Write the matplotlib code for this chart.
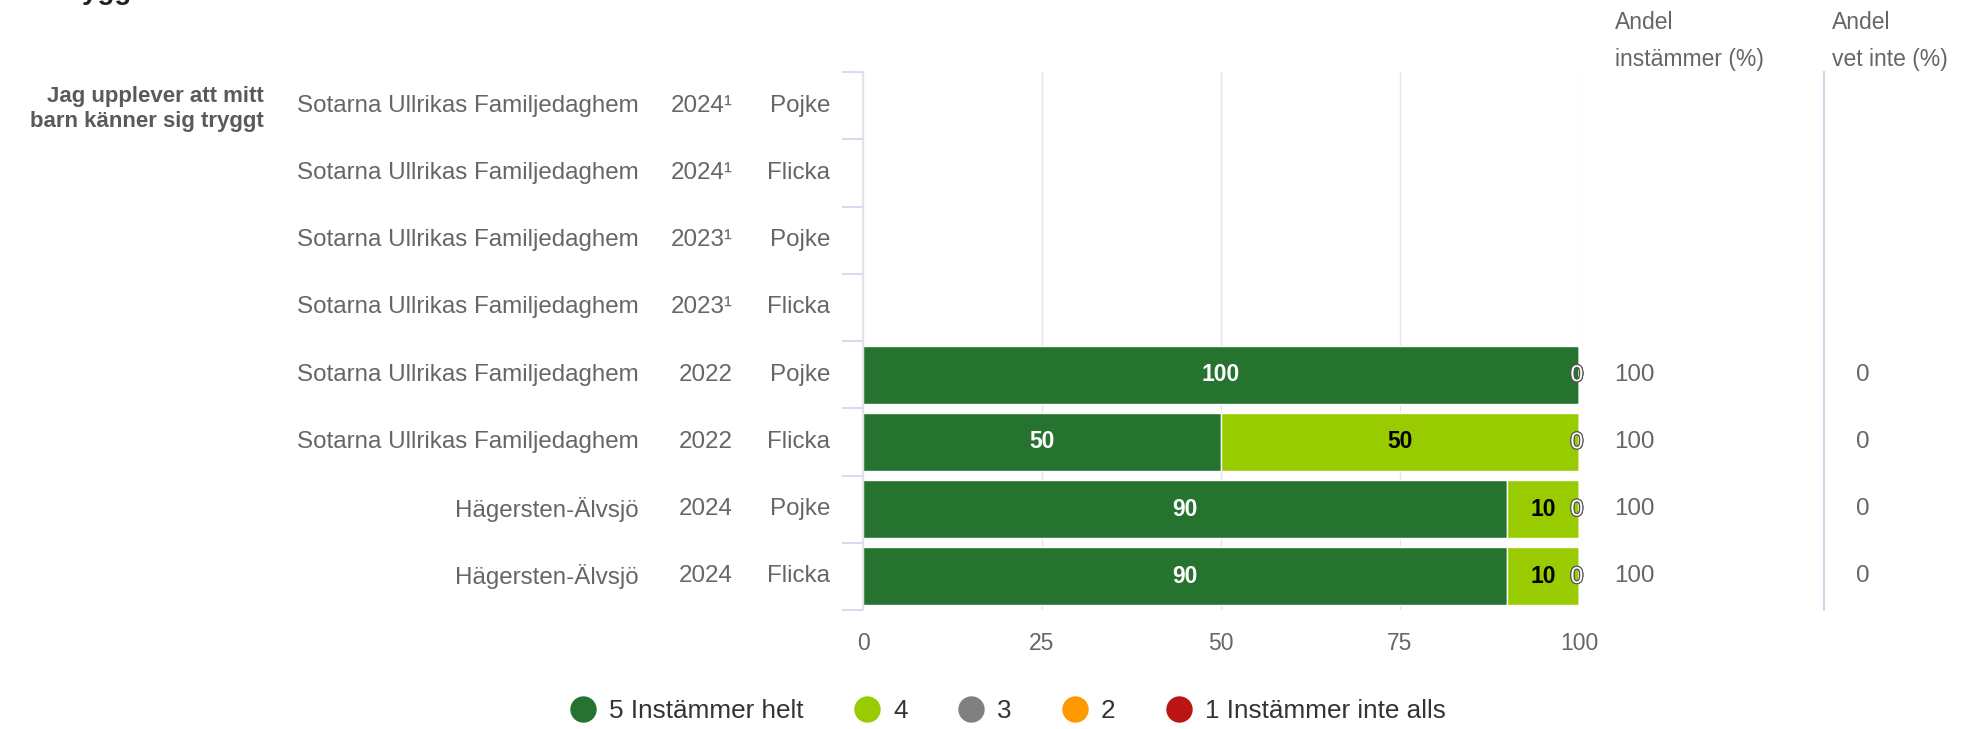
"""Stacked bar chart: Jag upplever att mitt barn känner sig tryggt"""
import matplotlib
matplotlib.use("Agg")
import matplotlib.pyplot as plt
import matplotlib.transforms as mtransforms
import matplotlib.patheffects as pe
from matplotlib.lines import Line2D
import numpy as np

plt.rcParams['font.family'] = ['Liberation Sans', 'DejaVu Sans']

# data
question = "Jag upplever att mitt\nbarn känner sig tryggt"
units = ["Sotarna Ullrikas Familjedaghem"] * 6 + ["Hägersten-Älvsjö"] * 2
years = ["2024\u00b9", "2024\u00b9", "2023\u00b9", "2023\u00b9", "2022", "2022", "2024", "2024"]
genders = ["Pojke", "Flicka", "Pojke", "Flicka", "Pojke", "Flicka", "Pojke", "Flicka"]
nan = np.nan
val5 = [nan, nan, nan, nan, 100, 50, 90, 90]
val4 = [nan, nan, nan, nan, 0, 50, 10, 10]
val3 = [nan, nan, nan, nan, 0, 0, 0, 0]
val2 = [nan, nan, nan, nan, 0, 0, 0, 0]
val1 = [nan, nan, nan, nan, 0, 0, 0, 0]
andel_instammer = ["", "", "", "", "100", "100", "100", "100"]
andel_vet_inte = ["", "", "", "", "0", "0", "0", "0"]
series_names = ["5 Instämmer helt", "4", "3", "2", "1 Instämmer inte alls"]
series_colors = ["#25732f", "#99cc00", "#808080", "#ff9900", "#bb1414"]
label_colors = ["white", "black", "white", "white", "white"]
xticks = [0, 25, 50, 75, 100]

W, H = 1973, 729
fig = plt.figure(figsize=(W / 100, H / 100), dpi=100)
ax = fig.add_axes([863 / W, 1 - 610 / H, (1579 - 863) / W, (610 - 72) / H])

grey = "#666666"
n = len(genders)
ypos = np.arange(n)
series = [val5, val4, val3, val2, val1]

ax.set_xlim(0, 100)
ax.set_ylim(n - 0.5, -0.5)
for x in xticks:
    ax.axvline(x, color="#e6e6e6", lw=1.0, zorder=0)

left = np.zeros(n)
for vals, col, lc in zip(series, series_colors, label_colors):
    v = np.array(vals, dtype=float)
    ax.barh(ypos, np.nan_to_num(v), left=left, height=0.86, color=col,
            edgecolor="white", linewidth=1.0, zorder=2)
    for i in range(n):
        if np.isnan(v[i]):
            continue
        if v[i] > 0:
            ax.text(left[i] + v[i] / 2, i, f"{v[i]:.0f}", ha="center", va="center",
                    fontsize=16.5, fontweight="bold", color=lc, zorder=4)
        else:
            ax.text(left[i] - 0.3, i, "0", ha="center", va="center", fontsize=16.5,
                    color="white", zorder=4,
                    path_effects=[pe.withStroke(linewidth=1.5, foreground="#555555")])
    left = left + np.nan_to_num(v)

# axes styling
for s in ["top", "right", "bottom"]:
    ax.spines[s].set_visible(False)
ax.spines["left"].set_color("#e0e0e0")
ax.spines["left"].set_linewidth(1.2)
ax.set_yticks(np.arange(-0.5, n, 1.0))
ax.set_yticklabels([])
ax.tick_params(axis="y", length=15, width=1.2, color="#ccd6eb", direction="out")
ax.set_xticks(xticks)
ax.tick_params(axis="x", length=0, pad=16, labelsize=16.5, labelcolor=grey)

# row labels
trans = mtransforms.blended_transform_factory(fig.transFigure, ax.transData)
for i in range(n):
    ax.text(639 / W, i, units[i], transform=trans, ha="right", va="center",
            fontsize=17.4, color=grey)
    ax.text(733 / W, i, years[i], transform=trans, ha="right", va="center",
            fontsize=17.4, color=grey)
    ax.text(830 / W, i, genders[i], transform=trans, ha="right", va="center",
            fontsize=17.4, color=grey)
    ax.text(1614 / W, i, andel_instammer[i], transform=trans, ha="left", va="center",
            fontsize=17.4, color=grey)
    ax.text(1856 / W, i, andel_vet_inte[i], transform=trans, ha="left", va="center",
            fontsize=17.4, color=grey)

ax.text(264 / W, 0.05, question, transform=trans, ha="right", va="center",
        fontsize=16, fontweight="bold", color="#5a5a5a", linespacing=1.25)

# column headers
fig.text(1615 / W, 1 - 11 / H, "Andel\ninstämmer (%)", ha="left", va="top",
         fontsize=16.5, color=grey, linespacing=1.8)
fig.text(1832 / W, 1 - 11 / H, "Andel\nvet inte (%)", ha="left", va="top",
         fontsize=16.5, color=grey, linespacing=1.8)
fig.add_artist(Line2D([1824 / W, 1824 / W], [1 - 72 / H, 1 - 610 / H],
                      transform=fig.transFigure, color="#ccd6eb", lw=1.5))

# cut off title at the very top
fig.text(57 / W, 1 + 1 / H, "Trygghet", ha="left", va="baseline",
         fontsize=20, fontweight="bold", color="#222222")

# legend
handles = [Line2D([], [], marker="o", linestyle="none", markersize=18,
                  markerfacecolor=c, markeredgecolor=c) for c in series_colors]
fig.legend(handles, series_names, loc="center", bbox_to_anchor=(1008 / W, 1 - 711 / H),
           ncol=5, frameon=False, fontsize=18.8, handlelength=1.0, handletextpad=0.5,
           columnspacing=1.92, labelcolor="#333333")

fig.savefig("out.png", dpi=100)
